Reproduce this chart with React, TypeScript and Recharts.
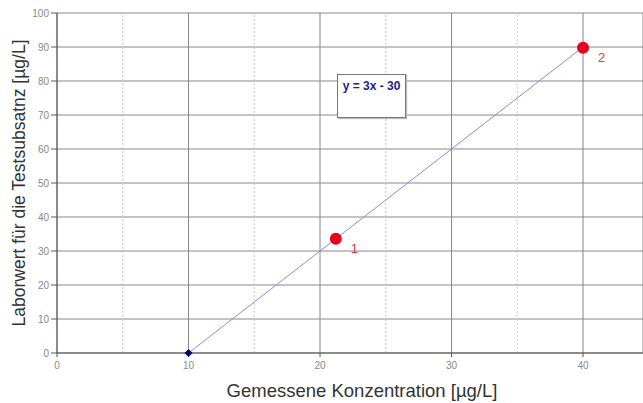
import {
  CartesianGrid,
  Label,
  LabelList,
  ReferenceLine,
  Scatter,
  ScatterChart,
  XAxis,
  YAxis,
} from "recharts";

const xTicks = [0, 10, 20, 30, 40];
const yTicks = [0, 10, 20, 30, 40, 50, 60, 70, 80, 90, 100];
const minorX = [5, 15, 25, 35];

// regression line y = 3x - 30
const lineX = [10, 40];
const lineY = [0, 90];

// measured points
const pointX = [21.2, 40];
const pointY = [33.6, 89.8];
const pointLabels = ["1", "2"];

const lineData = lineX.map((x, i) => ({ x, y: lineY[i] }));
const pointData = pointX.map((x, i) => ({ x, y: pointY[i], name: pointLabels[i] }));
const originData = [{ x: lineX[0], y: lineY[0] }];

const font = "Arial, 'Liberation Sans', sans-serif";

function RedDot(props: any) {
  return <circle cx={props.cx} cy={props.cy} r={6} fill="#e8001c" />;
}

function Diamond(props: any) {
  const { cx, cy } = props;
  const s = 4;
  return <path d={`M${cx},${cy - s}L${cx + s},${cy}L${cx},${cy + s}L${cx - s},${cy}Z`} fill="#00007a" />;
}

function PointLabel(props: any) {
  const { x, y, width, height, value } = props;
  const cx = x + width / 2;
  const cy = y + height / 2;
  return (
    <text x={cx + 15} y={cy + 14} fill="#e03a3a" fontSize={13} fontFamily={font}>
      {value}
    </text>
  );
}

export default function App() {
  return (
    <div style={{ position: "fixed", left: 0, top: 0, width: 643, height: 403, background: "#fff" }}>
      <ScatterChart
        width={643}
        height={403}
        margin={{ top: 13, right: 0, bottom: 0, left: 0 }}
        style={{ fontFamily: font }}
      >
        <CartesianGrid
          horizontal={{ stroke: "#999" }}
          vertical={{ stroke: "#555" }}
          stroke="#888"
        />
        {minorX.map((v) => (
          <ReferenceLine key={v} x={v} stroke="#c8c8c8" strokeDasharray="2 2" />
        ))}
        <XAxis
          type="number"
          dataKey="x"
          domain={[0, 44.56]}
          ticks={xTicks}
          allowDataOverflow
          height={50}
          axisLine={{ stroke: "#555" }}
          tickLine={{ stroke: "#555" }}
          tickSize={4}
          tickMargin={5}
          tick={{ fill: "#888", fontSize: 10 }}
        >
          <Label
            value="Gemessene Konzentration [µg/L]"
            position="insideBottom"
            offset={6}
            dx={12}
            fill="#333"
            fontSize={18.5}
          />
        </XAxis>
        <YAxis
          type="number"
          dataKey="y"
          domain={[0, 100]}
          ticks={yTicks}
          width={57}
          axisLine={{ stroke: "#555" }}
          tickLine={{ stroke: "#555" }}
          tickSize={6}
          tick={{ fill: "#888", fontSize: 10 }}
        >
          <Label
            value="Laborwert für die Testsubsatnz [µg/L]"
            angle={-90}
            position="center"
            dx={-10}
            fill="#333"
            fontSize={17.5}
          />
        </YAxis>
        <Scatter
          data={lineData}
          line={{ stroke: "#8a8ae6", strokeWidth: 1 }}
          shape={() => <g />}
          isAnimationActive={false}
        />
        <Scatter data={originData} shape={Diamond} isAnimationActive={false} />
        <Scatter data={pointData} shape={RedDot} isAnimationActive={false}>
          <LabelList dataKey="name" content={PointLabel} />
        </Scatter>
      </ScatterChart>
      <div
        style={{
          position: "absolute",
          left: 337,
          top: 74,
          width: 67,
          height: 42,
          border: "1px solid #777",
          background: "#fff",
          boxShadow: "1px 1px 1px #bbb",
          fontFamily: font,
          fontWeight: "bold",
          fontSize: 12,
          color: "#1c1c8c",
          textAlign: "center",
          lineHeight: "22px",
        }}
      >
        y = 3x - 30
      </div>
    </div>
  );
}
